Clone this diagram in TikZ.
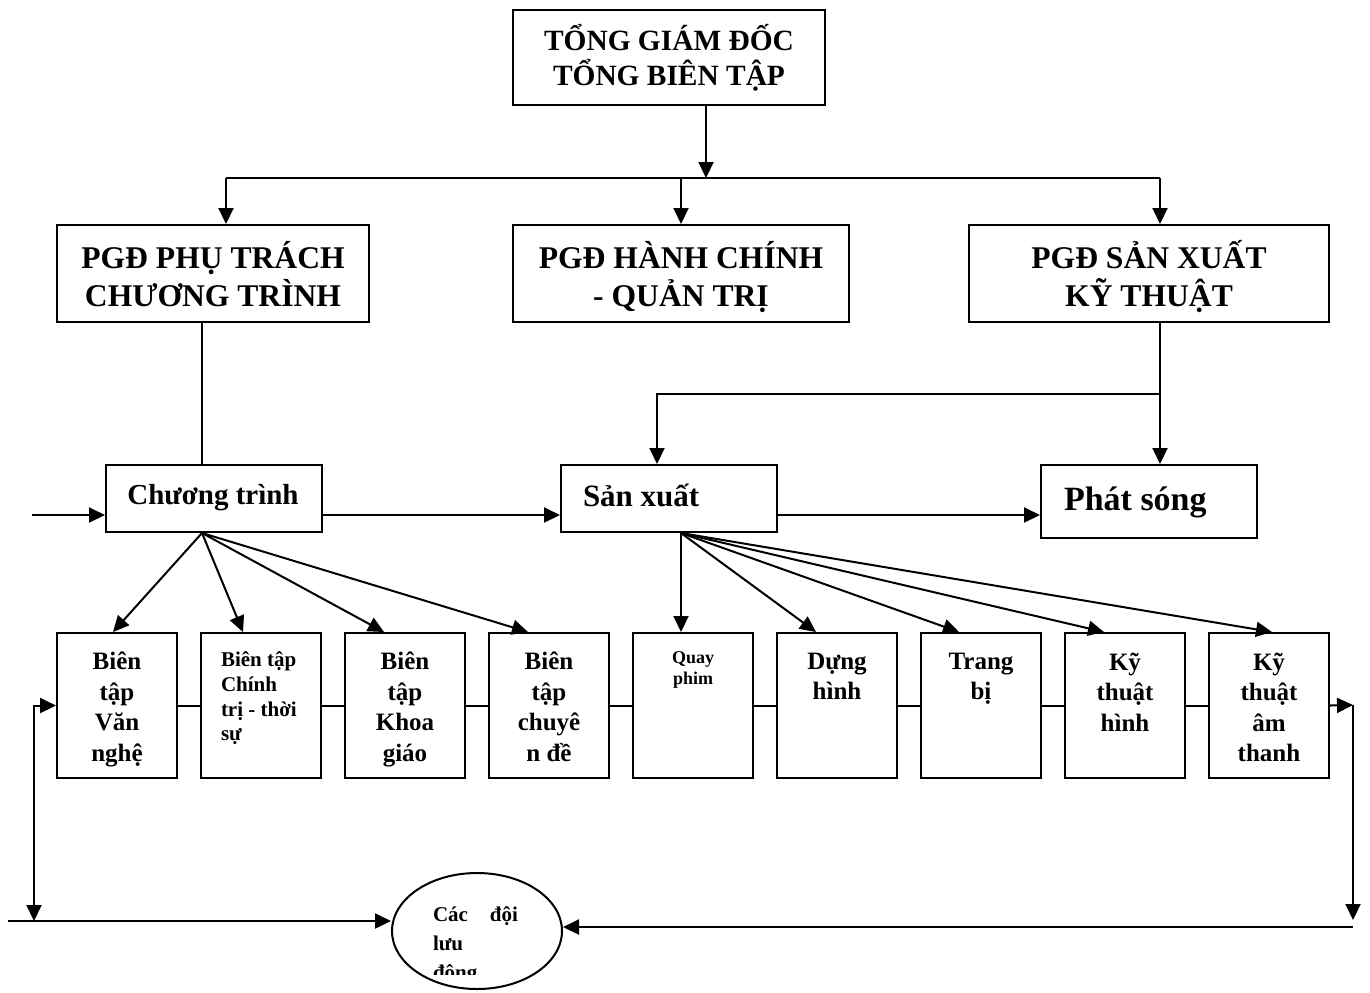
\documentclass[tikz,border=0pt]{standalone}
\usepackage{fontspec}
\setmainfont{Liberation Serif}
\usetikzlibrary{arrows.meta,shapes.geometric}
\newcommand\myvs{\vphantom{ỖỴ}}
\newcommand\myvt{\raisebox{0pt}[\dimexpr\height+3pt\relax]{\myvs}}
\begin{document}
\begin{tikzpicture}[x=0.5pt,y=-0.5pt, line width=1pt,
  >={Triangle[length=8pt,width=7.5pt]},
  box/.style={draw, rectangle, inner sep=0pt, align=center, font=\bfseries},
  topf/.style={font=\bfseries\fontsize{14.7}{17.5}\selectfont},
  pgdf/.style={font=\bfseries\fontsize{15.8}{19}\selectfont},
  midbox/.style={box, minimum width=108pt, minimum height=33.5pt},
  smallbox/.style={box, minimum width=60pt, minimum height=72.5pt},
  btxt/.style={anchor=north, inner sep=0pt, align=center, font=\bfseries\fontsize{12.5}{15.25}\selectfont}
]
\useasboundingbox (0,0) rectangle (1370,992);

% top
\node[box, topf, minimum width=156pt, minimum height=47.5pt] (top) at (669,57.5) {TỔNG GIÁM ĐỐC\\TỔNG BIÊN TẬP};

% deputies
\node[box, pgdf, minimum width=156pt, minimum height=48.5pt] (pgd1) at (213,273.5) {\myvt PGĐ PHỤ TRÁCH\\\myvs CHƯƠNG TRÌNH};
\node[box, pgdf, minimum width=168pt, minimum height=48.5pt] (pgd2) at (681,273.5) {\myvt PGĐ HÀNH CHÍNH\\\myvs - QUẢN TRỊ};
\node[box, pgdf, minimum width=180pt, minimum height=48.5pt] (pgd3) at (1149,273.5) {\myvt PGĐ SẢN XUẤT\\\myvs KỸ THUẬT};

\coordinate (hub) at (706,178);
\coordinate (hl) at (226,178);
\coordinate (hr) at (1160,178);
\draw[->] (top.south -| hub) -- (hub);
\draw (hl) -- (hr);
\draw[->] (hl) -- (hl |- pgd1.north);
\draw[->] (pgd2.north |- hub) -- (pgd2.north);
\draw[->] (hr) -- (hr |- pgd3.north);

% middle row
\node[midbox] (ct) at (214,498.5) {};
\node[anchor=center, inner sep=0pt, font=\bfseries\fontsize{14.5}{16}\selectfont] (ctt) at (213,498) {Chương trình};
\node[midbox] (sx) at (669,498.5) {};
\node[anchor=west, inner sep=0pt, font=\bfseries\fontsize{15.5}{17}\selectfont] (sxt) at (582,495) {Sản xuất};
\node[box, minimum width=108pt, minimum height=36.5pt] (ps) at (1149,501.5) {};
\node[anchor=west, inner sep=0pt, font=\bfseries\fontsize{17}{18}\selectfont] (pst) at (1063,502) {Phát sóng};

\coordinate (v1) at (202,400);
\draw (pgd1.south -| v1) -- (v1 |- ct.north);
\coordinate (j) at (1160,394);
\coordinate (k) at (657,394);
\draw (pgd3.south -| j) -- (j);
\draw[->] (j) -- (j |- ps.north);
\draw[->] (j) -- (k) -- (k |- sx.north);

\coordinate (in) at (32,515);
\draw[->] (in) -- (in -| ct.west);
\draw[->] (ct.east |- in) -- (sx.west |- in);
\draw[->] (sx.east |- in) -- (ps.west |- in);

% bottom boxes
\node[smallbox] (b1) at (117,705.5) {};
\node[smallbox] (b2) at (261,705.5) {};
\node[smallbox] (b3) at (405,705.5) {};
\node[smallbox] (b4) at (549,705.5) {};
\node[smallbox] (b5) at (693,705.5) {};
\node[smallbox] (b6) at (837,705.5) {};
\node[smallbox] (b7) at (981,705.5) {};
\node[smallbox] (b8) at (1125,705.5) {};
\node[smallbox] (b9) at (1269,705.5) {};

\node[btxt] (t1) at (117,651) {Biên\\tập\\Văn\\nghệ};
\node[btxt, anchor=north west, align=left, font=\bfseries\fontsize{10.5}{12.3}\selectfont] (t2) at (220,651) {Biên tập\\Chính\\trị - thời\\sự};
\node[btxt] (t3) at (405,651) {Biên\\tập\\Khoa\\giáo};
\node[btxt] (t4) at (549,651) {Biên\\tập\\chuyê\\n đề};
\node[btxt, font=\bfseries\fontsize{9}{10.5}\selectfont] (t5) at (693,651) {Quay\\phim};
\node[btxt] (t6) at (837,652) {Dựng\\hình};
\node[btxt] (t7) at (981,652) {Trang\\bị};
\node[btxt] (t8) at (1125,652) {Kỹ\\thuật\\hình};
\node[btxt] (t9) at (1269,652) {Kỹ\\thuật\\âm\\thanh};

\foreach \a/\b in {b1/b2,b2/b3,b3/b4,b4/b5,b5/b6,b6/b7,b7/b8,b8/b9}
  \draw (\a.east) -- (\b.west);

% fan out
\coordinate (o1) at (ct.south -| v1);
\draw[->] (o1) -- (b1.north -| 113,0);
\draw[->] (o1) -- (b2.north -| 243,0);
\draw[->] (o1) -- (b3.north -| 384,0);
\draw[->] (o1) -- (b4.north -| 528,0);
\coordinate (o2) at (sx.south -| 681,0);
\draw[->] (o2) -- (b5.north -| o2);
\draw[->] (o2) -- (b6.north -| 816,0);
\draw[->] (o2) -- (b7.north -| 959,0);
\draw[->] (o2) -- (b8.north -| 1104,0);
\draw[->] (o2) -- (b9.north -| 1272,0);

% mobile teams
\node[draw, ellipse, minimum width=85pt, minimum height=58pt, inner sep=0pt] (mob) at (477,931) {};
\begin{scope}
  \clip (400,880) rectangle (560,974);
  \node[anchor=north west, inner sep=0pt, align=left, font=\bfseries\fontsize{10.5}{14.5}\selectfont] (mobt) at (432,906) {Các\hspace{11pt}đội\\lưu\\động};
\end{scope}

\coordinate (lc) at (34,921);
\coordinate (rc) at (1353,705);
\draw[<->] (lc) |- (b1.west);
\draw[->] (b9.east) -- (rc);
\draw[->] (rc) -- (rc |- 0,920);
\draw[->] (8,921) -- (mob.west |- 0,921);
\draw[->] (1353,927) -- (mob.east |- 0,927);
\end{tikzpicture}
\end{document}
